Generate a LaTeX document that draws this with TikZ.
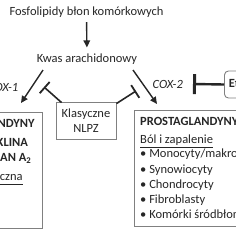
\documentclass[tikz,border=0pt]{standalone}
\usepackage{fontspec}
\setmainfont{Carlito}
\usetikzlibrary{arrows.meta,calc}
\definecolor{boxgray}{RGB}{128,128,128}
\definecolor{ink}{RGB}{38,38,38}

\begin{document}
\begin{tikzpicture}[x=1pt,y=-1pt,
    every node/.style={font=\fontsize{12.5}{15.2}\selectfont,text=ink},
    txt/.style={inner sep=0pt},
    box/.style={draw=boxgray,line width=0.9pt},
    cox/.style={inner sep=0pt,font=\fontsize{12.5}{14}\selectfont\itshape},
    arr/.style={-{Triangle[length=7pt,width=6.5pt]},line width=1.4pt,draw=ink},
    inh/.style={-{Bar[width=15pt,line width=1.8pt]},line width=1.6pt,draw=ink},
    tee/.style={-{Bar[width=20pt,line width=3pt]},line width=2.4pt,draw=ink}
]
\useasboundingbox (0,0) rectangle (236,236);
\clip (0,0) rectangle (236,236);

% pathway
\node[txt] (fosf) at (86.5,12.5) {Fosfolipidy błon komórkowych};
\node[txt] (kwas) at (87,59) {Kwas arachidonowy};
\draw[arr,shorten <=4pt,shorten >=6pt] (fosf) -- (kwas);

% boxes
\node[box,minimum width=110pt,minimum height=116pt,anchor=north east] (pgl) at (43,112) {};
\node[txt,align=center,anchor=north] (pglt) at ($(pgl.north)+(-2,7)$)
    {\textbf{PROSTAGLANDYNY}\\[3.8pt]
     \textbf{PROSTACYKLINA}\\[-0.2pt]
     \textbf{TROMBOKSAN A\textsubscript{2}}\\[4.3pt]
     \hspace*{10pt}\underline{Fizjologiczna}};
\node[box,minimum width=130pt,minimum height=116pt,anchor=north west] (pgr) at (134,110) {};
\node[txt,align=left,anchor=north west] (pgrt) at ($(pgr.north west)+(6,7)$)
    {\textbf{PROSTAGLANDYNY}\\[3.3pt]
     \underline{Ból i zapalenie}\\[-1.2pt]
     •\ Monocyty/makrofagi\\
     •\ Synowiocyty\\
     •\ Chondrocyty\\
     •\ Fibroblasty\\
     •\ Komórki śródbłonka};
\node[box,align=center,minimum width=60pt,minimum height=37pt] (nlpz) at (86,120.5) {Klasyczne\\NLPZ};
\node[box,rounded corners=4pt,anchor=west,minimum height=27pt,inner xsep=4.5pt,font=\fontsize{12.5}{14}\selectfont\bfseries] (ebox) at (224,84.5) {Etorykoksyb};

% enzymes
\node[cox,anchor=east] (cox1) at (18.5,87) {COX-1};
\node[cox,anchor=west] (cox2) at (152.5,84) {COX-2};
\draw[arr] ($(kwas.south)+(-44,5.5)$) -- ($(pgl.north east)+(-22,-9)$);
\draw[arr] ($(kwas.south)+(46,5.5)$) -- ($(pgr.north west)+(23,-6)$);

% inhibition
\coordinate (b1) at (44,87);
\coordinate (b2) at (136,91);
\coordinate (tb) at (193,84);
\draw[inh] ($(nlpz.north west)+(6,1)$) -- (b1);
\draw[inh] ($(nlpz.north east)+(0,2)$) -- (b2);
\draw[tee] (ebox.west) -- (tb);
\end{tikzpicture}
\end{document}
